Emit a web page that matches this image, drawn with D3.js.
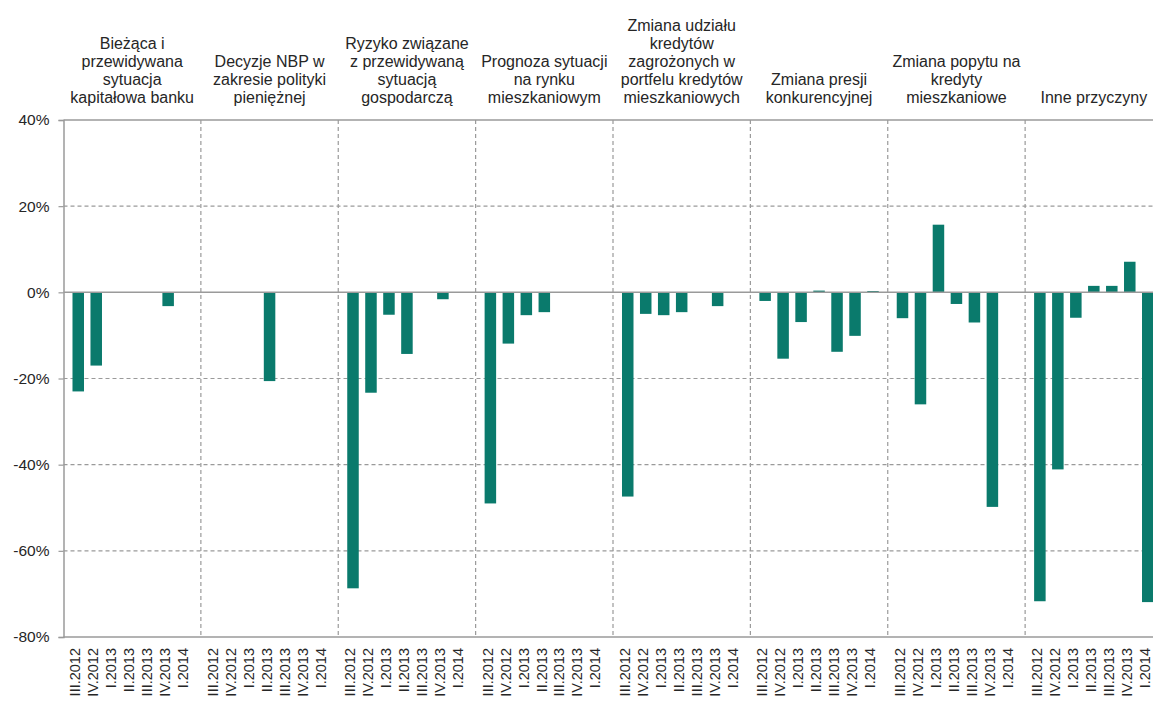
<!DOCTYPE html>
<html>
<head>
<meta charset="utf-8">
<script src="https://cdn.jsdelivr.net/npm/d3@7"></script>
<style>
  html, body { margin: 0; padding: 0; background: #fff; overflow: hidden; }
  svg { display: block; font-family: "Liberation Sans", Arial, sans-serif; }
</style>
</head>
<body>
<svg id="chart" width="1153" height="702"></svg>
<script>
// ---- data ----
const quarters = ["III.2012", "IV.2012", "I.2013", "II.2013", "III.2013", "IV.2013", "I.2014"];
const panelTitles = [
  ["Bieżąca i", "przewidywana", "sytuacja", "kapitałowa banku"],
  ["Decyzje NBP w", "zakresie polityki", "pieniężnej"],
  ["Ryzyko związane", "z przewidywaną", "sytuacją", "gospodarczą"],
  ["Prognoza sytuacji", "na rynku", "mieszkaniowym"],
  ["Zmiana udziału", "kredytów", "zagrożonych w", "portfelu kredytów", "mieszkaniowych"],
  ["Zmiana presji", "konkurencyjnej"],
  ["Zmiana popytu na", "kredyty", "mieszkaniowe"],
  ["Inne przyczyny"]
];
const capitalSituation = [-23, -17, 0, 0, 0, -3.2, 0];
const nbpDecisions     = [0, 0, 0, -20.6, 0, 0, 0];
const economicRisk     = [-68.7, -23.3, -5.2, -14.3, 0, -1.6, 0];
const housingForecast  = [-49, -11.9, -5.3, -4.6, 0, 0, 0];
const riskyLoansShare  = [-47.4, -5, -5.3, -4.6, 0, -3.2, 0];
const competition      = [-2, -15.4, -6.9, 0.4, -13.8, -10.1, 0.3];
const demandChange     = [-6, -26, 15.7, -2.7, -7, -49.8, 0];
const otherReasons     = [-71.7, -41.1, -5.9, 1.5, 1.5, 7.1, -71.9];
const yTicks = [40, 20, 0, -20, -40, -60, -80];

const series = [capitalSituation, nbpDecisions, economicRisk, housingForecast,
                riskyLoansShare, competition, demandChange, otherReasons];

// ---- layout ----
const plotLeft = 63.5, plotRight = 1162.5, plotTop = 120, plotBottom = 637;
const svg = d3.select("#chart");
const textColor = "#262626";
const axisColor = "#9a9a9a";
const barColor = "#0a7a6c";

const panelIdx = d3.range(series.length);
const xPanel = d3.scaleBand().domain(panelIdx).range([plotLeft, plotRight]).padding(0);
const xQ = d3.scaleBand().domain(quarters).range([0, xPanel.bandwidth()])
  .paddingInner(0.36).paddingOuter(0.5);
const y = d3.scaleLinear().domain([-80, 40]).range([plotBottom, plotTop]);

// horizontal dashed gridlines
svg.append("g").selectAll("line")
  .data(yTicks.filter(d => d !== 0 && d !== 40 && d !== -80))
  .join("line")
  .attr("x1", plotLeft).attr("x2", plotRight)
  .attr("y1", d => y(d)).attr("y2", d => y(d))
  .attr("stroke", axisColor).attr("stroke-width", 1.2)
  .attr("stroke-dasharray", "4,3");

// vertical dashed separators
svg.append("g").selectAll("line")
  .data(panelIdx.slice(1))
  .join("line")
  .attr("x1", d => xPanel(d)).attr("x2", d => xPanel(d))
  .attr("y1", plotTop).attr("y2", plotBottom)
  .attr("stroke", axisColor).attr("stroke-width", 1.2)
  .attr("stroke-dasharray", "4,3");

// top border
svg.append("line")
  .attr("x1", plotLeft).attr("x2", plotRight).attr("y1", y(40)).attr("y2", y(40))
  .attr("stroke", axisColor).attr("stroke-width", 1.5);

// bars
const flat = [];
series.forEach((vals, p) => vals.forEach((v, i) => flat.push({ p, q: quarters[i], v })));
svg.append("g").selectAll("rect")
  .data(flat.filter(d => d.v !== 0))
  .join("rect")
  .attr("x", d => xPanel(d.p) + xQ(d.q))
  .attr("width", xQ.bandwidth())
  .attr("y", d => y(Math.max(0, d.v)))
  .attr("height", d => Math.abs(y(d.v) - y(0)))
  .attr("fill", barColor);

// zero line
svg.append("line")
  .attr("x1", plotLeft).attr("x2", plotRight).attr("y1", y(0)).attr("y2", y(0))
  .attr("stroke", axisColor).attr("stroke-width", 1.5);

// y axis
const yAxis = d3.axisLeft(y).tickValues(yTicks).tickSize(5).tickPadding(9)
  .tickFormat(d => d + "%");
const gy = svg.append("g").attr("transform", `translate(${plotLeft},0)`).call(yAxis);
gy.select(".domain").attr("stroke", axisColor).attr("stroke-width", 1.5);
gy.selectAll(".tick line").attr("stroke", axisColor).attr("stroke-width", 1.2);
gy.selectAll(".tick text").attr("fill", textColor).attr("font-size", 15.5)
  .attr("font-family", "Liberation Sans, Arial, sans-serif");

// x axis line
svg.append("line")
  .attr("x1", plotLeft).attr("x2", plotRight).attr("y1", plotBottom).attr("y2", plotBottom)
  .attr("stroke", axisColor).attr("stroke-width", 1.5);

// x labels (rotated)
const xl = svg.append("g");
series.forEach((vals, p) => {
  xl.append("g").selectAll("text")
    .data(quarters)
    .join("text")
    .attr("transform", q => `translate(${xPanel(p) + xQ(q) + xQ.bandwidth() / 2},${plotBottom + 11}) rotate(-90)`)
    .attr("text-anchor", "end")
    .attr("dy", "0.15em")
    .attr("font-size", 14.5)
    .attr("fill", textColor)
    .text(q => q);
});

// panel titles
const lineH = 17.8, lastBase = 102.5;
panelTitles.forEach((lines, p) => {
  const cx = xPanel(p) + xPanel.bandwidth() / 2;
  const t = svg.append("text")
    .attr("text-anchor", "middle")
    .attr("font-size", 16)
    .attr("fill", textColor);
  lines.forEach((ln, i) => {
    t.append("tspan")
      .attr("x", cx)
      .attr("y", lastBase - (lines.length - 1 - i) * lineH)
      .text(ln);
  });
});
</script>
</body>
</html>
